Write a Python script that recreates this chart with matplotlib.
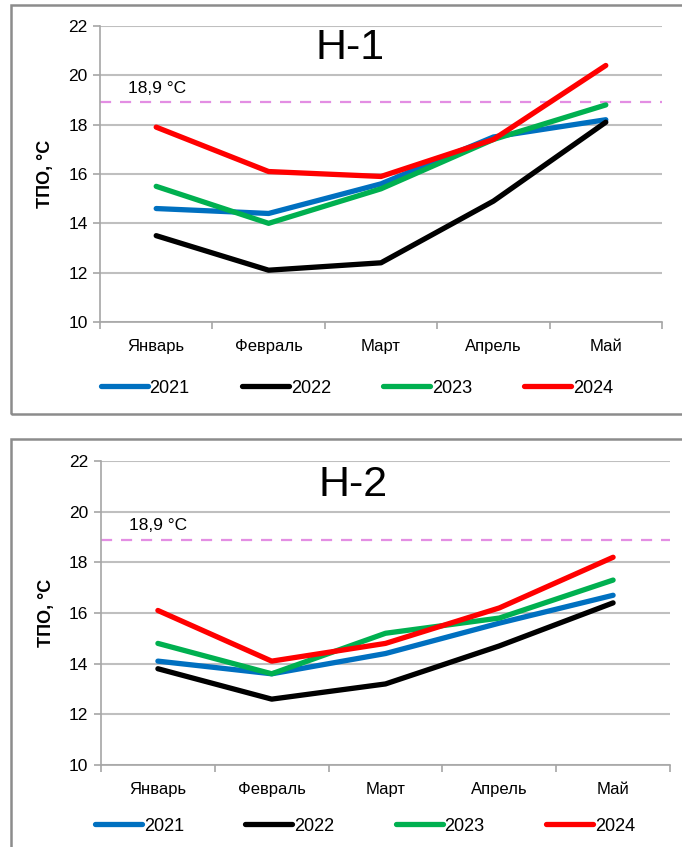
import matplotlib
matplotlib.use("Agg")
import matplotlib.pyplot as plt
from matplotlib.patches import Rectangle

plt.rcParams["font.family"] = ["Liberation Sans", "DejaVu Sans"]

months = ["Январь", "Февраль", "Март", "Апрель", "Май"]
years = ["2021", "2022", "2023", "2024"]
colors = ["#0070c0", "#000000", "#00b050", "#ff0000"]

# Н-1
h1_2021 = [14.6, 14.4, 15.6, 17.5, 18.2]
h1_2022 = [13.5, 12.1, 12.4, 14.9, 18.1]
h1_2023 = [15.5, 14.0, 15.4, 17.4, 18.8]
h1_2024 = [17.9, 16.1, 15.9, 17.4, 20.4]

# Н-2
h2_2021 = [14.1, 13.6, 14.4, 15.6, 16.7]
h2_2022 = [13.8, 12.6, 13.2, 14.7, 16.4]
h2_2023 = [14.8, 13.6, 15.2, 15.8, 17.3]
h2_2024 = [16.1, 14.1, 14.8, 16.2, 18.2]

threshold = 18.9
threshold_label = "18,9 °C"

W, H = 682, 847
fig = plt.figure(figsize=(W / 100, H / 100), dpi=100)


def px_box(x0, y0, x1, y1):
    # pixel box (top-left origin) -> figure fraction rect
    return [x0 / W, 1 - y1 / H, (x1 - x0) / W, (y1 - y0) / H]


def draw_panel(rect, title, series, title_xy, legend_xy, colspace):
    ax = fig.add_axes(rect)
    x = range(len(months))
    for vals, year, c in zip(series, years, colors):
        ax.plot(x, vals, color=c, lw=3.8, label=year, solid_capstyle="round", zorder=3)
    ax.axhline(threshold, color="#e38ee3", lw=1.6, dashes=(5, 4), zorder=2)
    ax.text(-0.25, threshold + 0.55, threshold_label, fontsize=12.5, va="center", ha="left")
    fig.text(title_xy[0] / W, 1 - title_xy[1] / H, title, fontsize=31, ha="center", va="center")

    ax.set_xlim(-0.5, len(months) - 0.5)
    ax.set_ylim(10, 22)
    ax.set_yticks(range(10, 23, 2))
    ax.set_xticks(range(len(months)))
    ax.set_xticklabels(months, fontsize=12)
    ax.set_xticks([i - 0.5 for i in range(len(months) + 1)], minor=True)
    ax.tick_params(axis="x", which="major", length=0, pad=12)
    ax.tick_params(axis="x", which="minor", length=5, color="#a6a6a6", width=1.2)
    ax.tick_params(axis="y", length=5, color="#a6a6a6", width=1.2, labelsize=12.5, pad=4)
    ax.grid(axis="y", color="#bfbfbf", lw=1.5, zorder=0)
    for s in ["top", "right"]:
        ax.spines[s].set_visible(False)
    for s in ["left", "bottom"]:
        ax.spines[s].set_color("#a6a6a6")
        ax.spines[s].set_linewidth(1.2)
    ax.set_ylabel("ТПО, °С", fontsize=13, fontweight="bold", labelpad=10)

    ax.legend(loc="center", bbox_to_anchor=(legend_xy[0] / W, 1 - legend_xy[1] / H),
              bbox_transform=fig.transFigure, ncol=4, frameon=False, fontsize=13,
              handlelength=2.6, handletextpad=0.1, columnspacing=colspace)
    return ax


draw_panel(px_box(100, 26, 662, 322), "Н-1",
           [h1_2021, h1_2022, h1_2023, h1_2024], (350, 48), (357, 388), 2.9)
draw_panel(px_box(101, 461, 670, 765), "Н-2",
           [h2_2021, h2_2022, h2_2023, h2_2024], (353, 485), (365, 826), 3.4)

# panel frames
for y0, y1 in [(5, 414), (439, 870)]:
    fig.add_artist(Rectangle((11 / W, 1 - y1 / H), (700 - 11) / W, (y1 - y0) / H,
                             transform=fig.transFigure, fill=False,
                             edgecolor="#8c8c8c", lw=1.8))

fig.savefig("out.png", dpi=100)
